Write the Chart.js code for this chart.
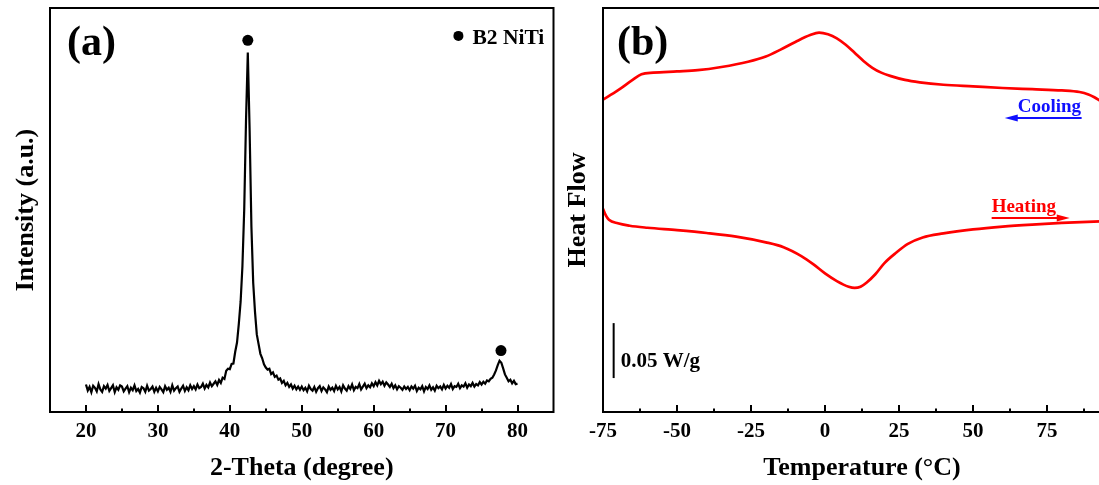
<!DOCTYPE html>
<html>
<head>
<meta charset="utf-8">
<script src="https://cdn.jsdelivr.net/npm/chart.js@4.4.1/dist/chart.umd.min.js"></script>
<style>
  html, body { margin: 0; padding: 0; background: #fff; overflow: hidden; }
  body { width: 1099px; height: 485px; position: relative; }
  .panel { position: absolute; top: 0; height: 485px; }
  #xrdBox { left: 0; width: 559px; }
  #dscBox { left: 555px; width: 600px; }
</style>
</head>
<body>
<div class="panel" id="xrdBox"><canvas id="xrdCanvas"></canvas></div>
<div class="panel" id="dscBox"><canvas id="dscCanvas"></canvas></div>
<script>
// ---- (a) XRD pattern, scanned 20..80 deg every 0.25 deg ----
let xrdStart = 20;
let xrdStep = 0.25;
let xrdIntensity = [
  6.8, 5.3, 6.2, 4.9, 6.5, 6.0, 5.1, 6.9, 5.6, 5.0, 6.4, 5.8, 6.7, 5.2, 5.9, 6.6, 4.9, 6.1, 5.5, 6.6,
  6.3, 5.1, 5.8, 6.4, 4.9, 6.0, 5.4, 6.6, 5.2, 5.7, 4.8, 6.2, 5.9, 5.0, 6.5, 5.3, 5.7, 6.3, 5.0, 6.0,
  5.1, 6.2, 5.6, 4.9, 6.4, 5.5, 6.0, 5.0, 6.6, 5.3, 5.9, 6.3, 5.0, 5.8, 6.5, 5.2, 6.1, 5.4, 6.6, 5.7,
  6.4, 5.6, 6.8, 5.9, 6.2, 7.0, 5.8, 6.7, 6.1, 7.3, 6.4, 7.0, 7.6, 6.7, 7.9, 7.2, 8.5, 8.2, 10.2, 10.7,
  10.6, 11.9, 12.0, 14.9, 17.2, 21.8, 27.3, 36.0, 50.0, 72.0, 89.0, 70.0, 46.0, 32.0, 24.8, 19.2, 16.8, 14.4, 13.3, 11.8,
  11.0, 10.5, 10.7, 9.4, 9.8, 8.7, 9.0, 8.0, 8.3, 7.2, 7.7, 6.6, 7.2, 6.2, 6.8, 5.8, 6.5, 5.6, 6.3, 5.5,
  6.3, 5.4, 6.0, 5.1, 6.5, 5.7, 5.3, 6.2, 5.0, 5.9, 6.4, 5.2, 6.1, 5.6, 4.9, 6.3, 5.5, 6.0, 5.2, 6.5,
  5.6, 6.2, 5.1, 6.6, 5.8, 5.3, 6.4, 5.7, 6.8, 5.4, 6.2, 5.9, 6.9, 5.6, 6.3, 7.0, 5.9, 6.6, 6.1, 7.1,
  6.4, 7.4, 6.6, 7.7, 6.9, 7.5, 6.5, 7.3, 6.8, 6.2, 7.0, 5.9, 6.6, 5.6, 6.4, 6.0, 5.5, 6.3, 5.7, 6.2,
  5.4, 6.3, 5.8, 6.5, 5.2, 6.0, 5.6, 6.4, 5.1, 6.2, 5.7, 6.6, 5.5, 6.1, 5.3, 6.5, 5.9, 6.3, 5.6, 6.7,
  5.8, 6.5, 6.0, 6.9, 5.7, 6.4, 6.2, 7.0, 5.9, 6.6, 6.3, 7.1, 6.0, 6.8, 6.4, 7.2, 6.3, 6.9, 6.6, 7.4,
  6.8, 7.5, 7.0, 7.8, 7.6, 8.2, 8.5, 9.3, 10.3, 11.6, 12.7, 12.2, 10.8, 9.3, 8.5, 7.6, 8.0, 7.1, 7.7, 6.9,
  7.0
];
let peakAngle = [42.5, 77.7];
let peakMark = [92.0, 15.2];
let xrdTicks = [20, 30, 40, 50, 60, 70, 80];
let xrdMinor = [25, 35, 45, 55, 65, 75];

// ---- (b) DSC curves ----
let coolTemp = [-75, -70, -65, -62, -58, -50, -43, -35, -26, -20, -15, -10, -5, -2, 1, 4, 7, 10, 13, 16, 19, 22, 27, 32, 40, 50, 60, 70, 80, 86, 89, 91, 93];
let coolFlow = [77.3, 79.6, 82.2, 83.6, 84.0, 84.3, 84.6, 85.4, 86.7, 88.0, 89.7, 91.6, 93.3, 93.9, 93.5, 92.5, 90.9, 88.9, 86.9, 85.2, 84.0, 83.2, 82.2, 81.6, 81.0, 80.6, 80.2, 79.9, 79.6, 79.2, 78.6, 77.9, 77.0];
let heatTemp = [-75, -74, -73, -70, -66, -60, -50, -40, -30, -20, -14, -8, -4, 0, 4, 8, 10, 12, 14, 17, 20, 24, 28, 33, 40, 50, 60, 70, 80, 93];
let heatFlow = [50.3, 48.6, 47.6, 46.7, 46.1, 45.6, 45.0, 44.3, 43.4, 42.0, 40.8, 38.6, 36.6, 34.3, 32.4, 31.0, 30.7, 31.0, 32.0, 34.1, 36.8, 39.4, 41.6, 43.2, 44.2, 45.2, 45.9, 46.4, 46.8, 47.2];
let dscTicks = [-75, -50, -25, 0, 25, 50, 75];
let dscMinor = [-62.5, -37.5, -12.5, 12.5, 37.5, 62.5, 87.5];

let serif = '"Liberation Serif", "Times New Roman", serif';

// box around the plot, inward ticks and the panel letter
let framePlugin = {
  id: 'frame',
  afterDraw(chart, args, opts) {
    let ctx = chart.ctx, a = chart.chartArea, x = chart.scales.x;
    ctx.save();
    ctx.strokeStyle = '#000';
    ctx.lineWidth = 2;
    ctx.strokeRect(a.left, a.top, a.right - a.left, a.bottom - a.top);
    ctx.beginPath();
    x.ticks.forEach(t => {
      let px = Math.round(x.getPixelForValue(t.value));
      ctx.moveTo(px, a.bottom);
      ctx.lineTo(px, a.bottom - 7);
    });
    (opts.minor || []).forEach(v => {
      let px = Math.round(x.getPixelForValue(v));
      ctx.moveTo(px, a.bottom);
      ctx.lineTo(px, a.bottom - 3.5);
    });
    ctx.stroke();
    ctx.fillStyle = '#000';
    ctx.font = 'bold 42px ' + serif;
    ctx.textBaseline = 'alphabetic';
    ctx.fillText(opts.label, a.left + opts.dx, a.top + 47);
    ctx.restore();
  }
};

// texts, arrows, scale bar placed in data units
let notesPlugin = {
  id: 'notes',
  afterDraw(chart, args, opts) {
    let ctx = chart.ctx, x = chart.scales.x, y = chart.scales.y;
    (opts.items || []).forEach(it => {
      ctx.save();
      ctx.fillStyle = it.color || '#000';
      ctx.strokeStyle = it.color || '#000';
      if (it.type === 'text') {
        ctx.font = 'bold ' + it.size + 'px ' + serif;
        ctx.textAlign = 'left';
        ctx.textBaseline = 'middle';
        ctx.fillText(it.text, x.getPixelForValue(it.x), y.getPixelForValue(it.y));
      } else if (it.type === 'dot') {
        ctx.beginPath();
        ctx.arc(x.getPixelForValue(it.x), y.getPixelForValue(it.y), it.r, 0, Math.PI * 2);
        ctx.fill();
      } else if (it.type === 'arrow') {
        let x0 = x.getPixelForValue(it.from), x1 = x.getPixelForValue(it.to), py = y.getPixelForValue(it.y);
        let d = Math.sign(x1 - x0);
        ctx.lineWidth = 2;
        ctx.beginPath();
        ctx.moveTo(x0, py);
        ctx.lineTo(x1 - d * 8, py);
        ctx.stroke();
        ctx.beginPath();
        ctx.moveTo(x1 + d * 2, py);
        ctx.lineTo(x1 - d * 11, py - 3.5);
        ctx.lineTo(x1 - d * 11, py + 3.5);
        ctx.closePath();
        ctx.fill();
      } else if (it.type === 'bar') {
        let px = x.getPixelForValue(it.x);
        ctx.lineWidth = 2;
        ctx.beginPath();
        ctx.moveTo(px, y.getPixelForValue(it.y0));
        ctx.lineTo(px, y.getPixelForValue(it.y1));
        ctx.stroke();
      }
      ctx.restore();
    });
  }
};

let tickFont = { family: serif, size: 21, weight: 'bold' };
let titleFont = { family: serif, size: 26, weight: 'bold' };

let makeScales = (xMin, xMax, ticks, xTitle, yTitle, yWidth, yPad) => ({
  x: {
    type: 'linear',
    min: xMin,
    max: xMax,
    afterBuildTicks: s => { s.ticks = ticks.map(v => ({ value: v })); },
    afterFit: s => { s.height = 73; },
    grid: { display: false, drawTicks: false },
    border: { display: false },
    ticks: { color: '#000', font: tickFont, padding: 7, maxRotation: 0 },
    title: { display: true, text: xTitle, color: '#000', font: titleFont, padding: { top: 0, bottom: 1 } }
  },
  y: {
    min: 0,
    max: 100,
    afterFit: s => { s.width = yWidth; },
    grid: { display: false, drawTicks: false },
    border: { display: false },
    ticks: { display: false },
    title: { display: true, text: yTitle, color: '#000', font: titleFont, padding: { top: yPad, bottom: 0 } }
  }
});

let xrdPoints = xrdIntensity.map((v, i) => ({ x: xrdStart + i * xrdStep, y: v }));
let peakPoints = peakAngle.map((a, i) => ({ x: a, y: peakMark[i] }));

new Chart(document.getElementById('xrdCanvas'), {
  type: 'line',
  data: {
    datasets: [
      { data: xrdPoints, borderColor: '#000', borderWidth: 2.2, pointRadius: 0, tension: 0 },
      { data: peakPoints, showLine: false, pointRadius: 5.5, pointBackgroundColor: '#000', pointBorderWidth: 0 }
    ]
  },
  options: {
    responsive: true,
    maintainAspectRatio: false,
    animation: false,
    events: [],
    layout: { padding: { top: 8, right: 2, left: 0, bottom: 0 } },
    scales: makeScales(15, 85, xrdTicks, '2-Theta (degree)', 'Intensity (a.u.)', 50, 11),
    plugins: {
      legend: { display: false },
      tooltip: { enabled: false },
      frame: { label: '(a)', dx: 17, minor: xrdMinor },
      notes: {
        items: [
          { type: 'dot', x: 71.78, y: 93.1, r: 5 },
          { type: 'text', text: 'B2 NiTi', x: 73.73, y: 92.4, size: 21.5 }
        ]
      }
    }
  },
  plugins: [framePlugin, notesPlugin]
});

new Chart(document.getElementById('dscCanvas'), {
  type: 'line',
  data: {
    datasets: [
      { data: coolTemp.map((t, i) => ({ x: t, y: coolFlow[i] })), borderColor: '#ff0000', borderWidth: 2.7, pointRadius: 0, cubicInterpolationMode: 'monotone' },
      { data: heatTemp.map((t, i) => ({ x: t, y: heatFlow[i] })), borderColor: '#ff0000', borderWidth: 2.7, pointRadius: 0, cubicInterpolationMode: 'monotone' }
    ]
  },
  options: {
    responsive: true,
    maintainAspectRatio: false,
    animation: false,
    events: [],
    layout: { padding: { top: 8, right: 34, left: 0, bottom: 0 } },
    scales: makeScales(-75, 100, dscTicks, 'Temperature (°C)', 'Heat Flow', 48, 8),
    plugins: {
      legend: { display: false },
      tooltip: { enabled: false },
      frame: { label: '(b)', dx: 14, minor: dscMinor },
      notes: {
        items: [
          { type: 'text', text: 'Cooling', x: 65.1, y: 75.5, size: 19, color: '#1010ff' },
          { type: 'arrow', from: 86.7, to: 61.4, y: 72.8, color: '#1010ff' },
          { type: 'text', text: 'Heating', x: 56.3, y: 50.7, size: 19, color: '#ff0000' },
          { type: 'arrow', from: 56.3, to: 82.0, y: 48.0, color: '#ff0000' },
          { type: 'bar', x: -71.4, y0: 22.0, y1: 8.4 },
          { type: 'text', text: '0.05 W/g', x: -69.0, y: 12.6, size: 21 }
        ]
      }
    }
  },
  plugins: [framePlugin, notesPlugin]
});
</script>
</body>
</html>
